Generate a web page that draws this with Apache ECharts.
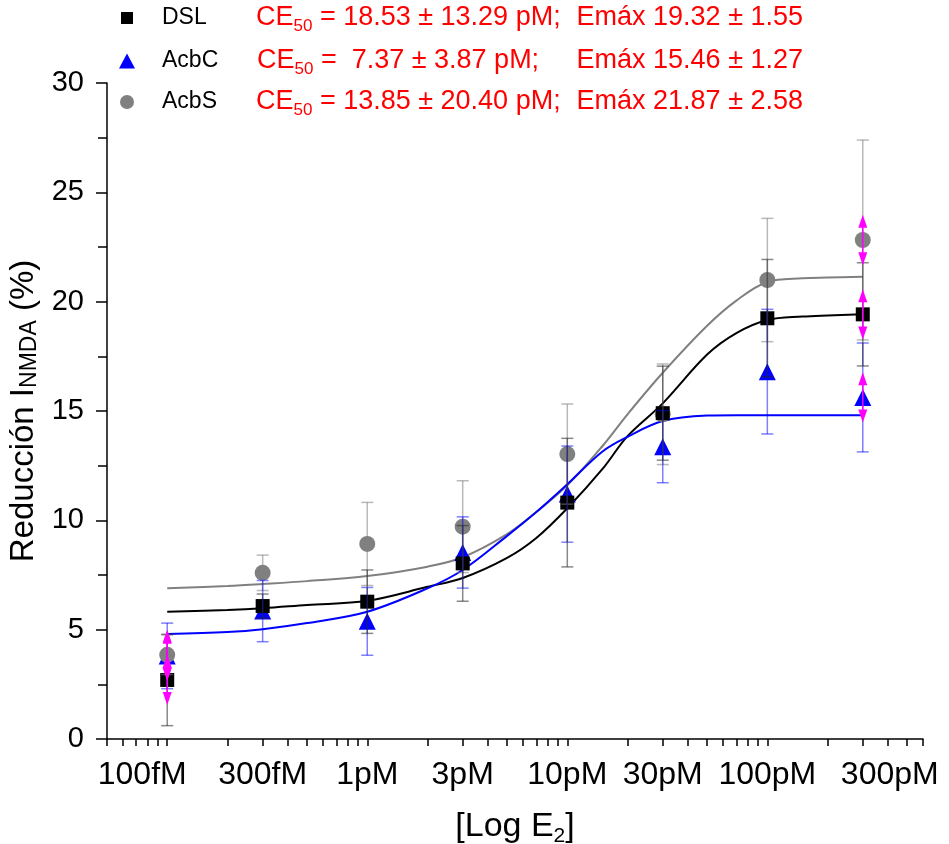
<!DOCTYPE html>
<html><head><meta charset="utf-8">
<script src="https://cdn.jsdelivr.net/npm/echarts@6/dist/echarts.min.js"></script>
<style>html,body{margin:0;padding:0;background:#fff}#c{width:949px;height:844px}</style>
</head><body><div id="c"></div>
<script>
// ---- data (concentrations in pM) ----
const concPM   = [0.1, 0.3, 1, 3, 10, 30, 100, 300];
const dslMean  = [2.70, 6.08, 6.28, 8.03, 10.81, 14.90, 19.24, 19.42];
const dslErr   = [2.09, 0.55, 1.45, 1.73, 2.94, 2.15, 2.69, 2.36];
const acbcMean = [3.80, 5.85, 5.38, 8.53, 11.20, 13.37, 16.80, 15.62];
const acbcErr  = [1.50, 1.40, 1.55, 1.63, 2.20, 1.65, 2.85, 2.49];
const acbsMean = [3.85, 7.60, 8.92, 9.71, 13.03, 14.85, 20.99, 22.82];
const acbsErr  = [0.90, 0.81, 1.90, 2.10, 2.29, 2.30, 2.82, 4.57];

// fitted curves
const fitConcPM = [0.1, 0.2, 0.3, 0.5, 1, 2, 3, 5, 7, 10, 15, 20, 30, 50, 70, 100, 150, 200, 300];
const dslFit  = [5.82, 5.90, 5.98, 6.13, 6.32, 6.96, 7.36, 8.28, 9.19, 10.55, 12.35, 13.85, 15.35, 17.58, 18.56, 19.16, 19.32, 19.37, 19.42];
const acbcFit = [4.80, 4.89, 5.02, 5.30, 5.82, 6.89, 7.73, 9.29, 10.38, 11.65, 13.15, 13.82, 14.54, 14.79, 14.81, 14.81, 14.81, 14.81, 14.81];
const acbsFit = [6.89, 7.00, 7.09, 7.22, 7.45, 7.88, 8.31, 9.37, 10.38, 11.60, 13.40, 14.85, 16.75, 18.90, 20.05, 20.90, 21.07, 21.10, 21.14];

// magenta double-arrow markers (at first and last concentration)
const arrowIdx = [0, 7];
const arrowHalf = [1.15, 1.15];

// axis ticks
const xLabelPM = [0.1, 0.3, 1, 3, 10, 30, 100, 300];
const xLabels  = ['100fM', '300fM', '1pM', '3pM', '10pM', '30pM', '100pM', '300pM'];
const xTickPM  = [0.05, 0.06, 0.07, 0.08, 0.09,
  0.1, 0.2, 0.3, 0.4, 0.5, 0.6, 0.7, 0.8, 0.9,
  1, 2, 3, 4, 5, 6, 7, 8, 9,
  10, 20, 30, 40, 50, 60, 70, 80, 90,
  100, 200, 300, 400, 500, 600];
const xMinPM = 0.05, xMaxPM = 600;

const FONT = 'Liberation Sans, Arial, sans-serif';
const lx = pm => Math.log10(pm * 1000); // log10 of fM

function pts(xs, ys) { return xs.map((c, i) => [lx(c), ys[i]]); }
function errData(means, errs) { return concPM.map((c, i) => [lx(c), means[i], errs[i]]); }
function arrowData(means) { return arrowIdx.map((k, j) => [lx(concPM[k]), means[k], arrowHalf[j]]); }

function errRender(color) {
  return function (params, api) {
    const x = api.value(0), y = api.value(1), e = api.value(2);
    const t = api.coord([x, y + e]), b = api.coord([x, y - e]);
    const hw = 6, st = { stroke: color, lineWidth: 1.5 };
    return { type: 'group', children: [
      { type: 'line', shape: { x1: t[0], y1: t[1], x2: b[0], y2: b[1] }, style: st },
      { type: 'line', shape: { x1: t[0] - hw, y1: t[1], x2: t[0] + hw, y2: t[1] }, style: st },
      { type: 'line', shape: { x1: b[0] - hw, y1: b[1], x2: b[0] + hw, y2: b[1] }, style: st }
    ]};
  };
}
function arrowRender(params, api) {
  const x = api.value(0), y = api.value(1), e = api.value(2);
  const t = api.coord([x, y + e]), b = api.coord([x, y - e]);
  const h = 13, w = 4.5, col = '#ff00ff';
  return { type: 'group', children: [
    { type: 'line', shape: { x1: t[0], y1: t[1] + 4, x2: b[0], y2: b[1] - 4 }, style: { stroke: col, lineWidth: 1.5 } },
    { type: 'polygon', shape: { points: [[t[0], t[1]], [t[0] - w, t[1] + h], [t[0] + w, t[1] + h]] }, style: { fill: col } },
    { type: 'polygon', shape: { points: [[b[0], b[1]], [b[0] - w, b[1] - h], [b[0] + w, b[1] - h]] }, style: { fill: col } }
  ]};
}

const chart = echarts.init(document.getElementById('c'), null, { renderer: 'canvas' });

const redRich = {
  a: { fontSize: 27, fontFamily: FONT, fill: '#ff0000', lineHeight: 34, verticalAlign: 'middle' },
  s: { fontSize: 17, fontFamily: FONT, fill: '#ff0000', lineHeight: 18, verticalAlign: 'bottom' }
};
function redText(x, y, txt, align) {
  return { type: 'text', x: x, y: y, z: 10,
    style: { text: txt, rich: redRich, verticalAlign: 'middle', align: align || 'left', fill: '#ff0000', fontSize: 27, fontFamily: FONT } };
}
function legendRow(name, left, top, w, h, pad) {
  return {
    orient: 'vertical', left: left, top: top, padding: 0, itemWidth: w, itemHeight: h,
    selectedMode: false, data: [name],
    textStyle: { fontSize: 23, fontFamily: FONT, color: '#000', lineHeight: 24, padding: [0, 0, 0, pad] }
  };
}

chart.setOption({
  animation: false,
  backgroundColor: '#ffffff',
  grid: { left: 107, right: 26, top: 83, bottom: 105, containLabel: false, outerBoundsMode: 'none' },
  legend: [
    legendRow('DSL', 121, 6, 12, 12, 24),
    legendRow('AcbC', 119, 49, 16, 15, 22),
    legendRow('AcbS', 120, 90, 14, 14, 23)
  ],
  xAxis: {
    type: 'value', min: lx(xMinPM), max: lx(xMaxPM),
    splitLine: { show: false },
    axisLine: { show: true, onZero: false, lineStyle: { color: '#000', width: 1.5 } },
    axisTick: { show: true, inside: false, length: 7, customValues: xTickPM.map(lx), lineStyle: { color: '#000', width: 1.5 } },
    axisLabel: {
      customValues: xLabelPM.map(lx), margin: 20, color: '#000', fontSize: 32, fontFamily: FONT,
      formatter: function (v) {
        let best = 0;
        xLabelPM.forEach((c, i) => { if (Math.abs(lx(c) - v) < Math.abs(lx(xLabelPM[best]) - v)) best = i; });
        if (best === 0) return '{l|' + xLabels[0] + '}';
        if (best === xLabels.length - 1) return '{r|' + xLabels[best] + '}';
        return xLabels[best];
      },
      rich: {
        l: { fontSize: 32, fontFamily: FONT, color: '#000', padding: [0, 50, 0, 0] },
        r: { fontSize: 32, fontFamily: FONT, color: '#000', padding: [0, 0, 0, 54] }
      }
    },
    name: '{m|[Log E}{s|2}{m|]}', nameLocation: 'middle', nameGap: 68,
    nameTextStyle: {
      rich: {
        m: { fontSize: 34, fontFamily: FONT, color: '#000', lineHeight: 40, verticalAlign: 'middle' },
        s: { fontSize: 21, fontFamily: FONT, color: '#000', lineHeight: 20, verticalAlign: 'bottom' }
      }
    }
  },
  yAxis: {
    type: 'value', min: 0, max: 30, interval: 5,
    splitLine: { show: false },
    axisLine: { show: true, onZero: false, lineStyle: { color: '#000', width: 1.5 } },
    axisTick: { show: true, inside: false, length: 11, lineStyle: { color: '#000', width: 1.5 } },
    minorTick: { show: true, splitNumber: 2, length: 9, lineStyle: { color: '#000', width: 1.5 } },
    axisLabel: { margin: 23, color: '#000', fontSize: 29, fontFamily: FONT },
    name: '{m|Reducción I}{n|NMDA}{m| (%)}', nameLocation: 'middle', nameRotate: 90, nameGap: 60,
    nameTextStyle: {
      rich: {
        m: { fontSize: 33, fontFamily: FONT, color: '#000', lineHeight: 38, verticalAlign: 'bottom' },
        n: { fontSize: 23, fontFamily: FONT, color: '#000', lineHeight: 30, verticalAlign: 'bottom' }
      }
    }
  },
  graphic: [
    redText(256, 18, '{a|CE}{s|50}{a| = 18.53 ± 13.29 pM;}'),
    redText(803, 18, '{a|Emáx 19.32 ± 1.55}', 'right'),
    redText(257, 61, '{a|CE}{s|50}{a| =  7.37 ± 3.87 pM;}'),
    redText(803, 61, '{a|Emáx 15.46 ± 1.27}', 'right'),
    redText(256, 102, '{a|CE}{s|50}{a| = 13.85 ± 20.40 pM;}'),
    redText(803, 102, '{a|Emáx 21.87 ± 2.58}', 'right')
  ],
  series: [
    { name: 'AcbS fit', type: 'line', data: pts(fitConcPM, acbsFit), smooth: 0.35, showSymbol: false, z: 2,
      lineStyle: { color: '#808080', width: 2 }, itemStyle: { color: '#808080' }, silent: true },
    { name: 'DSL fit', type: 'line', data: pts(fitConcPM, dslFit), smooth: 0.35, showSymbol: false, z: 2,
      lineStyle: { color: '#000000', width: 2 }, itemStyle: { color: '#000' }, silent: true },
    { name: 'AcbC fit', type: 'line', data: pts(fitConcPM, acbcFit), smooth: 0.35, showSymbol: false, z: 2,
      lineStyle: { color: '#0000ff', width: 2 }, itemStyle: { color: '#00f' }, silent: true },

    { name: 'AcbC', type: 'scatter', symbol: 'triangle', symbolSize: 17, data: pts(concPM, acbcMean), z: 3,
      itemStyle: { color: '#0000ff', opacity: 1 } },
    { name: 'AcbS', type: 'scatter', symbol: 'circle', symbolSize: 16, data: pts(concPM, acbsMean), z: 4,
      itemStyle: { color: '#808080', opacity: 1 } },
    { name: 'DSL', type: 'scatter', symbol: 'rect', symbolSize: 14, data: pts(concPM, dslMean), z: 5,
      itemStyle: { color: '#000000', opacity: 1 } },

    { name: 'AcbS err', type: 'custom', renderItem: errRender('rgba(128,128,128,0.55)'), data: errData(acbsMean, acbsErr), z: 6, silent: true },
    { name: 'AcbC err', type: 'custom', renderItem: errRender('rgba(0,0,255,0.5)'), data: errData(acbcMean, acbcErr), z: 6, silent: true },
    { name: 'DSL err', type: 'custom', renderItem: errRender('rgba(40,40,40,0.55)'), data: errData(dslMean, dslErr), z: 6, silent: true },

    { name: 'arrows', type: 'custom', renderItem: arrowRender,
      data: arrowData(acbsMean).concat(arrowData(dslMean), arrowData(acbcMean)), z: 7, silent: true }
  ]
});
</script></body></html>
